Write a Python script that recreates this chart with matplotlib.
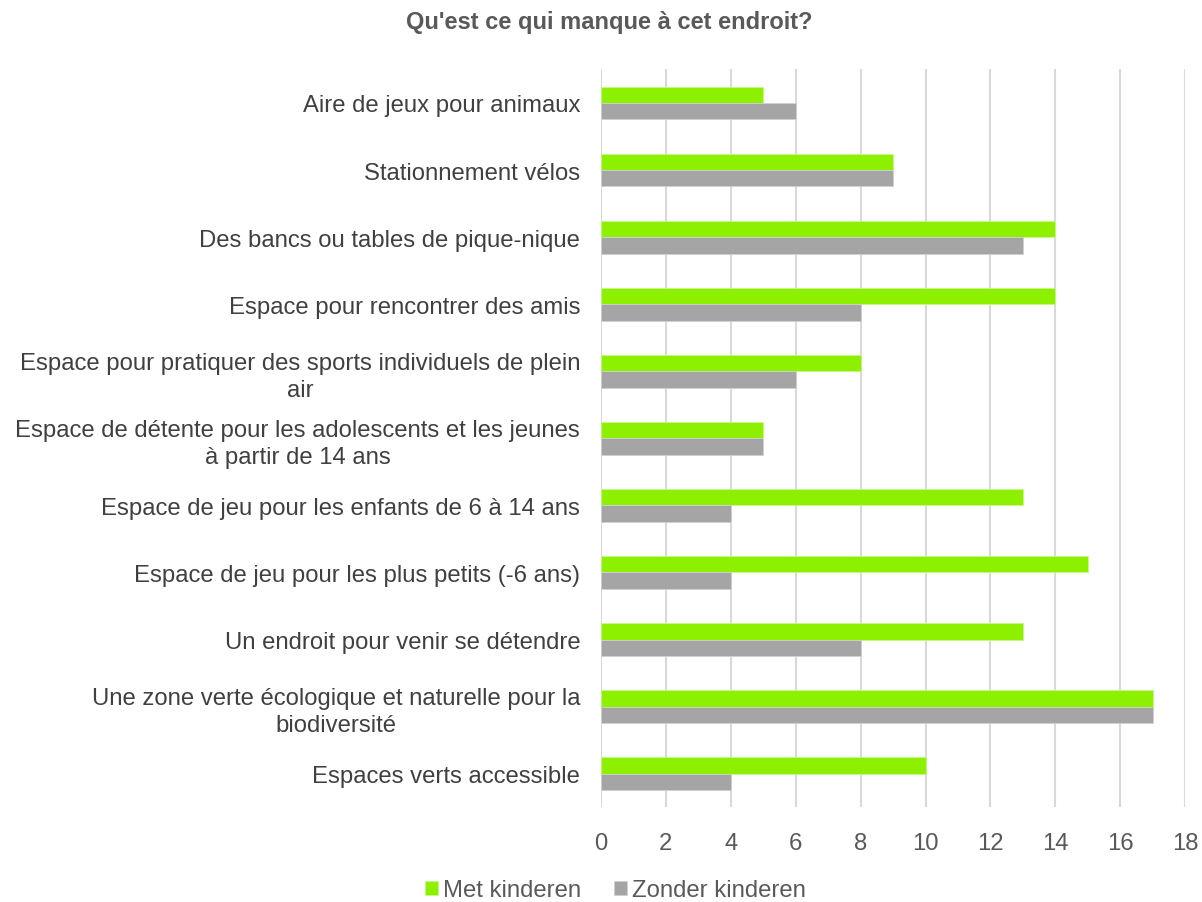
import matplotlib.pyplot as plt
import numpy as np

plt.rcParams['font.family'] = ['Liberation Sans', 'DejaVu Sans']

categories = [
    "Aire de jeux pour animaux",
    "Stationnement vélos",
    "Des bancs ou tables de pique-nique",
    "Espace pour rencontrer des amis",
    "Espace pour pratiquer des sports individuels de plein\nair",
    "Espace de détente pour les adolescents et les jeunes\nà partir de 14 ans",
    "Espace de jeu pour les enfants de 6 à 14 ans",
    "Espace de jeu pour les plus petits (-6 ans)",
    "Un endroit pour venir se détendre",
    "Une zone verte écologique et naturelle pour la\nbiodiversité",
    "Espaces verts accessible",
]
met_kinderen = [5, 9, 14, 14, 8, 5, 13, 15, 13, 17, 10]
zonder_kinderen = [6, 9, 13, 8, 6, 5, 4, 4, 8, 17, 4]
xticks = [0, 2, 4, 6, 8, 10, 12, 14, 16, 18]

GREEN = "#8CF000"
GREY = "#A5A5A5"
TEXT = "#404040"
TICK = "#595959"
FS = 17.2

fig = plt.figure(figsize=(12.02, 9.03), dpi=100)
ax = fig.add_axes([0.5, 0.105, 0.486, 0.817])

y = np.arange(len(categories))
h = 0.245
ax.barh(y - h / 2, met_kinderen, height=h, color=GREEN, edgecolor="#C8F78A",
        linewidth=0.6, label="Met kinderen", zorder=3)
ax.barh(y + h / 2, zonder_kinderen, height=h, color=GREY, edgecolor="#D0D0D0",
        linewidth=0.6, label="Zonder kinderen", zorder=3)

ax.set_ylim(len(categories) - 0.5, -0.5)
ax.set_xlim(0, 18)
ax.set_xticks(xticks)
ax.set_xticklabels([str(t) for t in xticks])
ax.set_yticks(y)
ax.set_yticklabels(categories, fontsize=FS, color=TEXT, multialignment="center",
                   linespacing=1.3)
ax.tick_params(axis="y", length=0, pad=15)
ax.tick_params(axis="x", length=0, pad=18, labelsize=FS, labelcolor=TICK)

ax.grid(axis="x", color="#D9D9D9", linewidth=1.5, zorder=0)
ax.set_axisbelow(True)
for s in ax.spines.values():
    s.set_visible(False)

fig.text(0.507, 0.975, "Qu'est ce qui manque à cet endroit?", ha="center", va="center",
         fontsize=17, fontweight="bold", color=TICK)

fig.legend(loc="center", bbox_to_anchor=(0.512, 0.013), ncol=2, frameon=False,
           fontsize=FS, handlelength=0.55, handleheight=0.55, handletextpad=0.2,
           columnspacing=1.4, labelcolor=TICK)

fig.savefig("out.png", dpi=100)
